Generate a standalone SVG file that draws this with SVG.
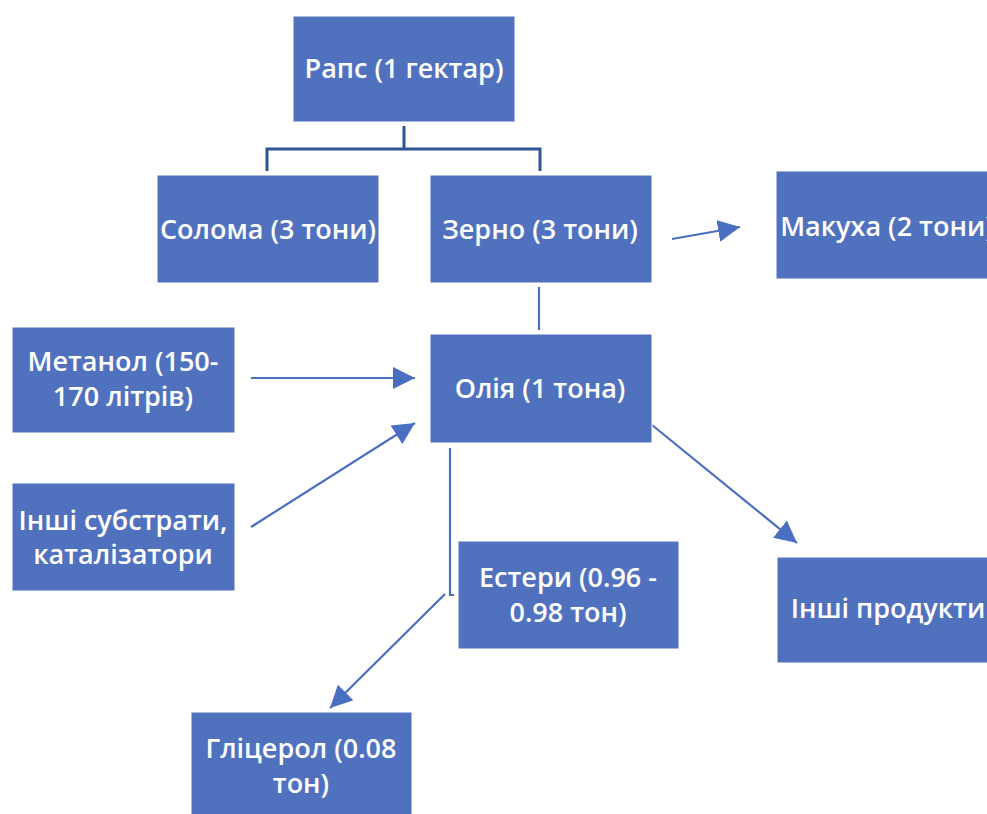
<svg xmlns="http://www.w3.org/2000/svg" width="987" height="814" viewBox="0 0 987 814">
<style>
.box{fill:#5072BE;stroke:#ffffff;stroke-width:1}
.t{font-family:"Open Sans","Noto Sans","DejaVu Sans",sans-serif;font-size:27px;font-weight:600;fill:#ffffff;text-anchor:middle}
.tree{fill:none;stroke:#2F5597;stroke-width:3}
.ln{fill:none;stroke:#4A6FC0;stroke-width:2.2}
</style>
<defs>
<marker id="ah" markerUnits="userSpaceOnUse" markerWidth="24" markerHeight="22" refX="22" refY="11" orient="auto">
<path d="M0,0 L22,11 L0,22 Z" fill="#4A6FC0"/>
</marker>
</defs>
<rect width="987" height="814" fill="#ffffff"/>
<g id="connectors">
<path class="tree" d="M404,126 V149 M267,171 V149 H540 V171"/>
<path class="ln" d="M672,239 L740,227" marker-end="url(#ah)"/>
<path class="ln" d="M539,287 V330"/>
<path class="ln" d="M251,378 L415,378" marker-end="url(#ah)"/>
<path class="ln" d="M251,527 L415,423" marker-end="url(#ah)"/>
<path class="ln" d="M652,425 L797,543" marker-end="url(#ah)"/>
<path class="ln" d="M450,448 V595 H454"/>
<path class="ln" d="M445,594 L330,708" marker-end="url(#ah)"/>
</g>
<g id="n-raps"><rect class="box" x="293" y="16" width="222" height="106"/><text class="t" x="404" y="78">Рапс (1 гектар)</text></g>
<g id="n-soloma"><rect class="box" x="157" y="175" width="222" height="108"/><text class="t" x="268" y="239">Солома (3 тони)</text></g>
<g id="n-zerno"><rect class="box" x="430" y="175" width="222" height="108"/><text class="t" x="540" y="239">Зерно (3 тони)</text></g>
<g id="n-makukha"><rect class="box" x="776" y="171" width="222" height="108"/><text class="t" x="887" y="236">Макуха (2 тони)</text></g>
<g id="n-metanol"><rect class="box" x="12" y="327" width="223" height="106"/><text class="t" x="123" y="371">Метанол (150-</text><text class="t" x="123" y="406">170 літрів)</text></g>
<g id="n-oliya"><rect class="box" x="430" y="334" width="222" height="109"/><text class="t" x="540" y="398">Олія (1 тонa)</text></g>
<g id="n-substraty"><rect class="box" x="12" y="483" width="223" height="108"/><text class="t" x="123" y="530">Інші субстрати,</text><text class="t" x="123" y="564">каталізатори</text></g>
<g id="n-estery"><rect class="box" x="458" y="541" width="221" height="108"/><text class="t" x="568" y="587">Естери (0.96 -</text><text class="t" x="568" y="622">0.98 тон)</text></g>
<g id="n-inshi"><rect class="box" x="777" y="557" width="222" height="106"/><text class="t" x="888" y="618">Інші продукти</text></g>
<g id="n-glitserol"><rect class="box" x="191" y="712" width="221" height="108"/><text class="t" x="301" y="758">Гліцерол (0.08</text><text class="t" x="301" y="793">тон)</text></g>
</svg>
